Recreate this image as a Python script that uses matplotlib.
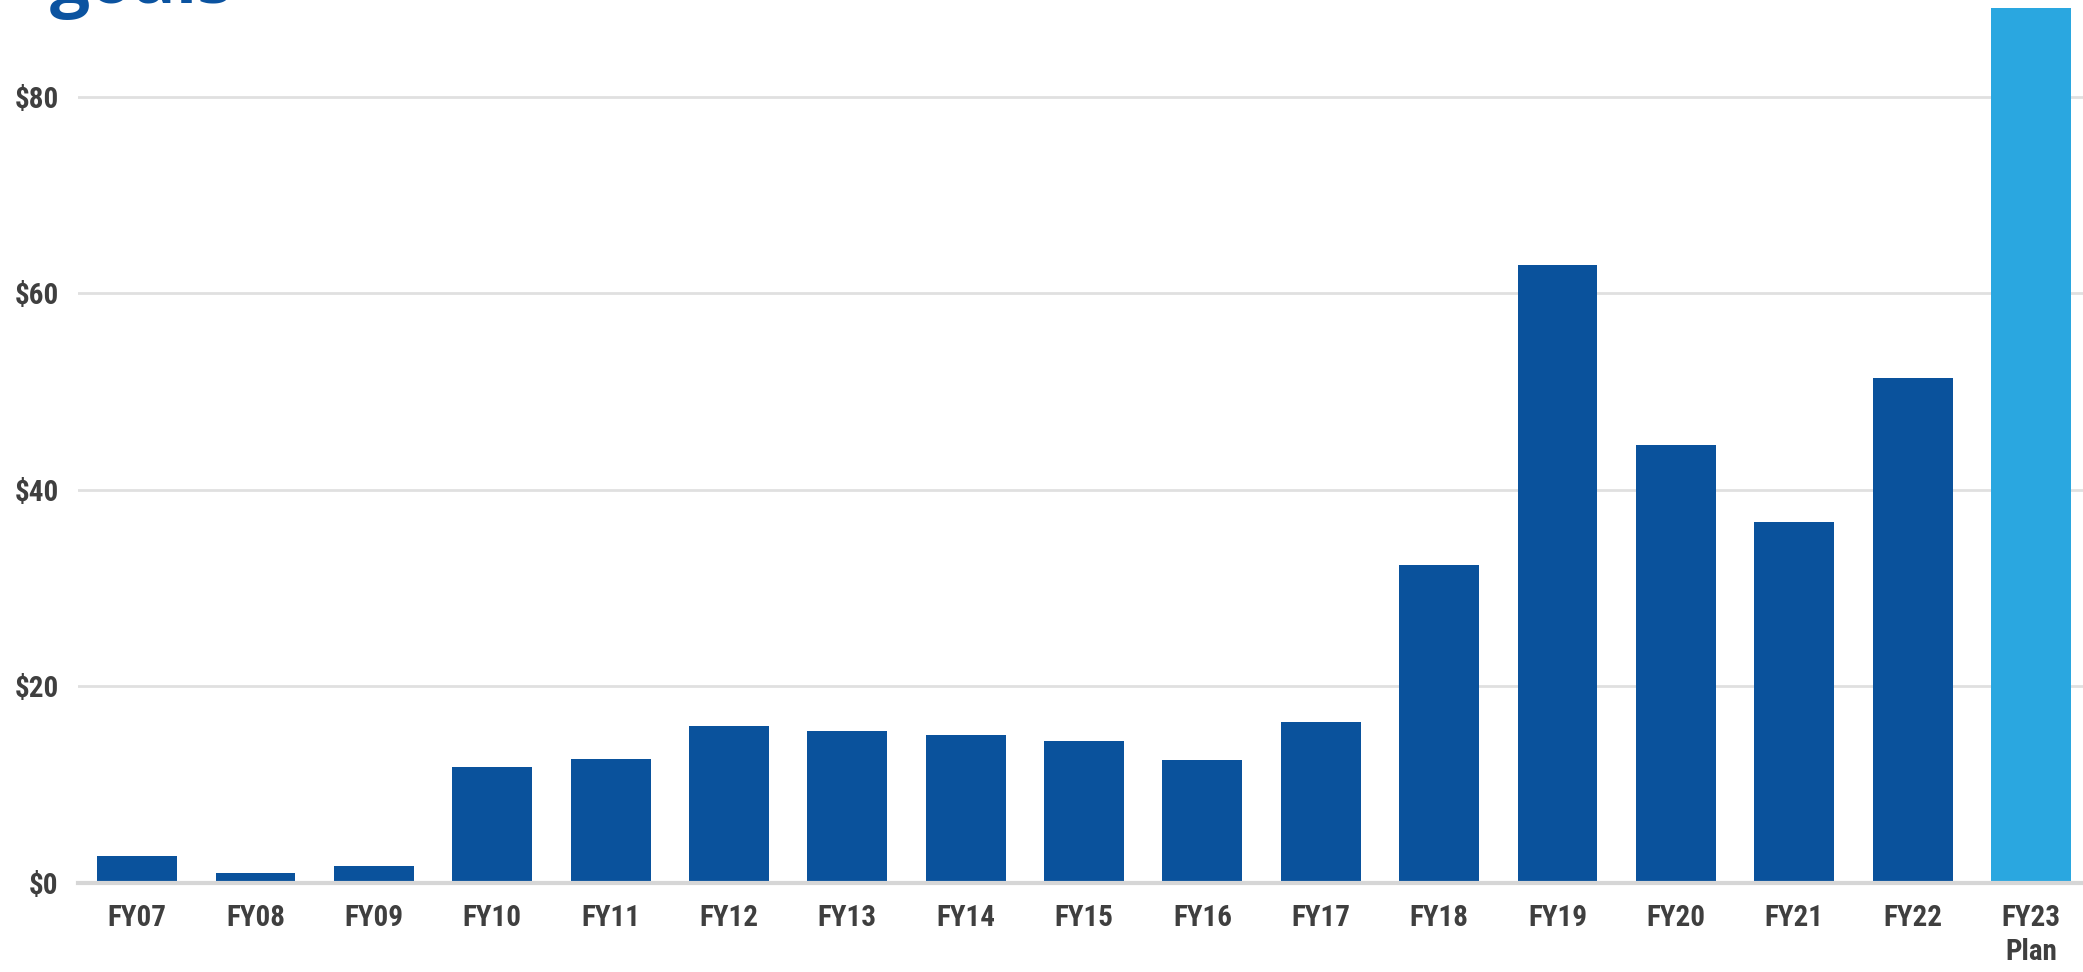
import matplotlib
matplotlib.use("Agg")
import matplotlib.pyplot as plt
from matplotlib.ticker import FuncFormatter

categories = ["FY07", "FY08", "FY09", "FY10", "FY11", "FY12", "FY13", "FY14", "FY15",
              "FY16", "FY17", "FY18", "FY19", "FY20", "FY21", "FY22", "FY23\nPlan"]
values = [2.75, 1.0, 1.7, 11.85, 12.65, 16.0, 15.5, 15.1, 14.4,
          12.5, 16.4, 32.4, 62.9, 44.6, 36.7, 51.4, 89.0]
is_plan = [False] * 16 + [True]
y_ticks = [0, 20, 40, 60, 80]

DARK = "#0a529c"
LIGHT = "#2aa7e0"
TEXT = "#3f3f3f"
LABEL_FONT = ["Roboto Condensed", "DejaVu Sans"]

W, H = 2083, 972
fig = plt.figure(figsize=(W / 100, H / 100), dpi=100)
ax_left = 78 / W
ax_bottom = (H - 883) / H
ax = fig.add_axes([ax_left, ax_bottom, 1 - ax_left, 1 - ax_bottom])

x = list(range(len(categories)))
colors = [LIGHT if p else DARK for p in is_plan]
ax.bar(x, values, width=0.675, color=colors, linewidth=0, zorder=3)

ax.set_xlim(-0.5, 16.44)
ax.set_ylim(0, 883 / 9.83)
ax.set_yticks(y_ticks)
ax.yaxis.set_major_formatter(FuncFormatter(lambda v, p: f"${int(v)}"))
ax.set_xticks(x)
ax.set_xticklabels(categories)

ax.grid(axis="y", color="#e0e0e0", linewidth=2.0, zorder=0)
ax.grid(axis="x", visible=False)
for s in ["top", "right", "left"]:
    ax.spines[s].set_visible(False)
ax.spines["bottom"].set_color("#d6d6d6")
ax.spines["bottom"].set_linewidth(3)
ax.spines["bottom"].set_zorder(4)

ax.tick_params(axis="both", length=0)
ax.tick_params(axis="x", pad=15)
ax.tick_params(axis="y", pad=14)
for lab in ax.get_xticklabels() + ax.get_yticklabels():
    lab.set_fontfamily(LABEL_FONT)
    lab.set_fontweight("bold")
    lab.set_fontsize(21)
    lab.set_color(TEXT)
    lab.set_linespacing(1.3)

fig.text(50 / W, 1 - 3 / H, "goals", ha="left", va="baseline",
         fontsize=51, fontweight="bold", color="#0b53a0",
         family=["Open Sans", "DejaVu Sans"])

fig.savefig("out.png", dpi=100, facecolor="white")
